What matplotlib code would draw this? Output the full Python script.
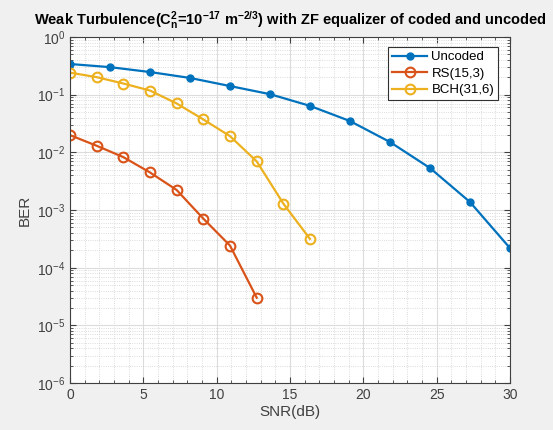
import matplotlib
matplotlib.use("Agg")
import matplotlib.pyplot as plt
import matplotlib.ticker as ticker

plt.rcParams['font.family'] = ['Liberation Sans', 'DejaVu Sans']
plt.rcParams['mathtext.default'] = 'regular'

# uncoded
snr_unc = [0, 2.73, 5.45, 8.18, 10.91, 13.64, 16.36, 19.09, 21.82, 24.55, 27.27, 30]
ber_unc = [0.34, 0.30, 0.247, 0.195, 0.141, 0.102, 0.064, 0.0349, 0.0151, 0.00534, 0.00138, 0.000219]

# RS(15,3)
snr_rs = [0, 1.82, 3.64, 5.45, 7.27, 9.09, 10.91, 12.73]
ber_rs = [0.0199, 0.013, 0.00826, 0.00449, 0.00223, 0.00071, 0.000242, 0.0000302]

# BCH(31,6)
snr_bch = [0, 1.82, 3.64, 5.45, 7.27, 9.09, 10.91, 12.73, 14.55, 16.36]
ber_bch = [0.241, 0.201, 0.156, 0.118, 0.0705, 0.0372, 0.0191, 0.00697, 0.00129, 0.000316]

fig = plt.figure(figsize=(5.53, 4.30), dpi=100, facecolor="#f0f0f0")
ax = fig.add_axes([0.1266, 0.109, 0.7956, 0.805])

ax.semilogy(snr_unc, ber_unc, '-o', color="#0072BD", lw=1.6, ms=5, label="Uncoded")
ax.semilogy(snr_rs, ber_rs, '-o', color="#D95319", lw=1.6, ms=7, mfc="none", mew=1.5, label="RS(15,3)")
ax.semilogy(snr_bch, ber_bch, '-o', color="#EDB120", lw=1.6, ms=7, mfc="none", mew=1.5, label="BCH(31,6)")

ax.set_xlim(0, 30)
ax.set_ylim(1e-6, 1)
ax.set_xticks(range(0, 31, 5))
ax.yaxis.set_major_locator(ticker.LogLocator(base=10, numticks=10))
ax.yaxis.set_minor_locator(ticker.LogLocator(base=10, subs=range(2, 10), numticks=10))

ax.grid(True, which="major", color="#dcdcdc", lw=0.8)
ax.grid(True, which="minor", axis="y", color="#d0d0d0", lw=0.6, ls=":")
ax.xaxis.set_minor_locator(ticker.MultipleLocator(1))
ax.grid(True, which="minor", axis="x", color="#d0d0d0", lw=0.6, ls=":")
ax.set_axisbelow(True)

ax.tick_params(which="both", direction="in", top=True, right=True, colors="#404040", labelsize=10)
ax.tick_params(axis="x", which="minor", length=0)
ax.tick_params(which="major", length=4)
ax.tick_params(which="minor", length=2)
for s in ax.spines.values():
    s.set_color("#404040")

ax.set_xlabel("SNR(dB)", fontsize=11, color="#404040", labelpad=2)
ax.set_ylabel("BER", fontsize=11, color="#404040")
ax.set_title(r"Weak Turbulence(C$_n^2$=10$^{-17}$ m$^{-2/3}$) with ZF equalizer of coded and uncoded",
             fontsize=10.5, fontweight="bold", pad=9)

leg = ax.legend(loc="upper right", bbox_to_anchor=(0.973, 0.971), borderaxespad=0,
                fancybox=False, edgecolor="#303030", fontsize=9.5, borderpad=0.3,
                labelspacing=0.32, handlelength=2.7, handletextpad=0.3, framealpha=1)
leg.get_frame().set_linewidth(0.8)

plt.savefig("out.png", dpi=100, facecolor=fig.get_facecolor())
